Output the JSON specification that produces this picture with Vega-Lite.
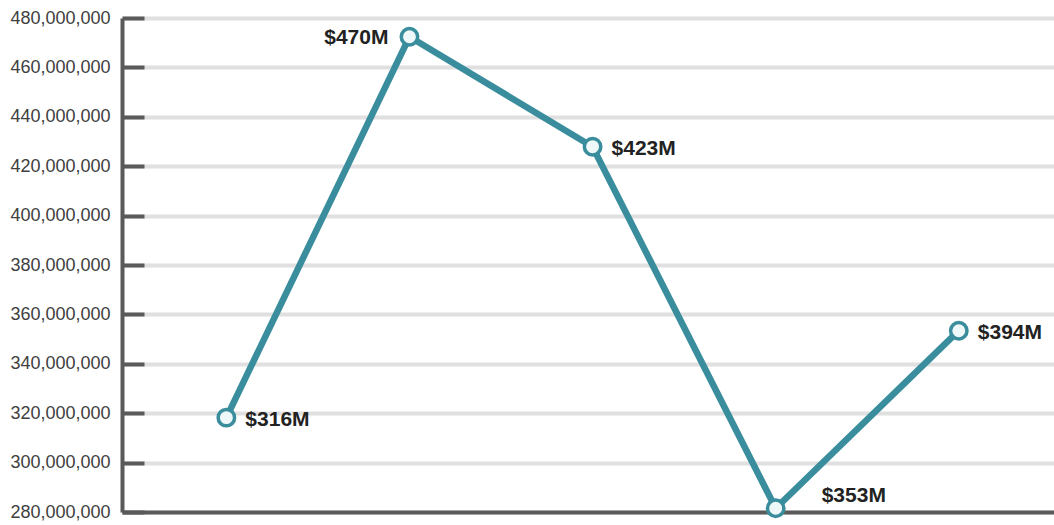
{
  "$schema": "https://vega.github.io/schema/vega-lite/v6.json",
  "width": 932,
  "height": 494,
  "autosize": {"type": "none"},
  "padding": {"left": 122, "top": 18, "right": 0, "bottom": 13},
  "background": "white",
  "config": {"view": {"stroke": null}, "font": "Liberation Sans"},
  "data": {
    "values": [
      {"period": 1, "revenue": 318200000, "label": "$316M"},
      {"period": 2, "revenue": 472400000, "label": "$470M"},
      {"period": 3, "revenue": 427900000, "label": "$423M"},
      {"period": 4, "revenue": 281500000, "label": "$353M"},
      {"period": 5, "revenue": 353400000, "label": "$394M"}
    ]
  },
  "encoding": {
    "x": {
      "field": "period",
      "type": "quantitative",
      "scale": {"domain": [0.43, 5.52], "nice": false, "zero": false},
      "axis": {"labels": false, "ticks": false, "grid": false, "title": null, "domainColor": "#5a5a5a", "domainWidth": 4}
    },
    "y": {
      "field": "revenue",
      "type": "quantitative",
      "scale": {"domain": [280000000, 480000000], "nice": false, "zero": false},
      "axis": {
        "title": null,
        "values": [280000000, 300000000, 320000000, 340000000, 360000000, 380000000, 400000000, 420000000, 440000000, 460000000, 480000000],
        "format": ",d",
        "labelFontSize": 18,
        "labelColor": "#404040",
        "labelPadding": 34,
        "domainColor": "#5a5a5a",
        "domainWidth": 4,
        "tickColor": "#5a5a5a",
        "tickWidth": 4,
        "tickSize": -22,
        "gridColor": "#e0e0e0",
        "gridWidth": 4
      }
    }
  },
  "layer": [
    {"mark": {"type": "line", "color": "#3a8d9c", "strokeWidth": 6.5}},
    {"mark": {"type": "point", "shape": "circle", "filled": true, "fill": "#eef8f8", "stroke": "#3a8d9c", "strokeWidth": 3.5, "size": 270, "opacity": 1}},
    {
      "transform": [{"filter": "datum.period == 1 || datum.period == 3 || datum.period == 5"}],
      "mark": {"type": "text", "align": "left", "baseline": "middle", "dx": 19, "dy": 2, "fontSize": 21, "fontWeight": "bold", "color": "#222222"},
      "encoding": {"text": {"field": "label"}}
    },
    {
      "transform": [{"filter": "datum.period == 2"}],
      "mark": {"type": "text", "align": "right", "baseline": "middle", "dx": -21, "dy": 1, "fontSize": 21, "fontWeight": "bold", "color": "#222222"},
      "encoding": {"text": {"field": "label"}}
    },
    {
      "transform": [{"filter": "datum.period == 4"}],
      "mark": {"type": "text", "align": "left", "baseline": "middle", "dx": 46, "dy": -12, "fontSize": 21, "fontWeight": "bold", "color": "#222222"},
      "encoding": {"text": {"field": "label"}}
    }
  ]
}
